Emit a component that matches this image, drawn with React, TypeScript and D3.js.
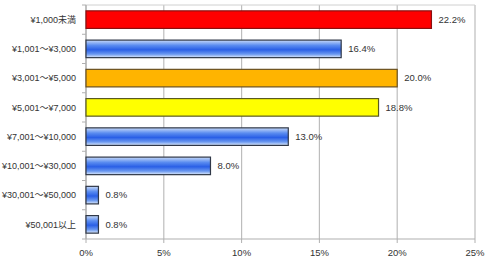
import React from "react";
import * as d3 from "d3";

const categories = ["¥1,000未満", "¥1,001～¥3,000", "¥3,001～¥5,000", "¥5,001～¥7,000", "¥7,001～¥10,000", "¥10,001～¥30,000", "¥30,001～¥50,000", "¥50,001以上"];
const values = [22.2, 16.4, 20.0, 18.8, 13.0, 8.0, 0.8, 0.8];
const fills = ["red", "blue", "orange", "yellow", "blue", "blue", "blue", "blue"];
const ticks = [0, 5, 10, 15, 20, 25];

export default function App() {
  const W = 500, H = 277;
  const left = 86, right = 475, top = 5, bottom = 239;
  const x = d3.scaleLinear().domain([0, 25]).range([left, right]);
  const y = d3.scaleBand().domain(categories).range([top, bottom]).paddingInner(0.4).paddingOuter(0.2);
  const font = "'Liberation Sans', 'Noto Sans CJK JP', sans-serif";
  const solid: Record<string, { fill: string; stroke: string }> = {
    red: { fill: "#ff0000", stroke: "#8a1010" },
    orange: { fill: "#ffb400", stroke: "#6a5020" },
    yellow: { fill: "#ffff00", stroke: "#5a5a20" },
    blue: { fill: "url(#blueGrad)", stroke: "#303848" },
  };
  const bandStep = (bottom - top) / categories.length;
  return (
    <svg width={W} height={H} style={{ position: "absolute", left: 0, top: 0, background: "#fff" }}>
      <defs>
        <linearGradient id="blueGrad" x1="0" y1="0" x2="0" y2="1">
          <stop offset="0" stopColor="#c8daf8" />
          <stop offset="0.3" stopColor="#5a8cf0" />
          <stop offset="0.55" stopColor="#2a5fe6" />
          <stop offset="0.8" stopColor="#6a98f0" />
          <stop offset="1" stopColor="#e0ebfb" />
        </linearGradient>
      </defs>
      <rect x={0} y={0} width={W} height={H} fill="#fff" />
      {ticks.map((t) => (
        <line key={t} x1={x(t)} x2={x(t)} y1={top} y2={bottom} stroke="#bdbdbd" strokeWidth={1.2} />
      ))}
      <line x1={left} x2={right} y1={top} y2={top} stroke="#d0d0d0" strokeWidth={1} />
      <line x1={left} x2={right} y1={bottom} y2={bottom} stroke="#b0b0b0" strokeWidth={1.2} />
      <line x1={left} x2={left} y1={top} y2={bottom} stroke="#b0b0b0" strokeWidth={1.2} />
      {d3.range(categories.length + 1).map((i) => (
        <line key={i} x1={left - 4} x2={left} y1={top + i * bandStep} y2={top + i * bandStep} stroke="#b0b0b0" />
      ))}
      {ticks.map((t) => (
        <line key={"t" + t} x1={x(t)} x2={x(t)} y1={bottom} y2={bottom + 4} stroke="#b0b0b0" />
      ))}
      {categories.map((c, i) => {
        const s = solid[fills[i]];
        const by = y(c)!;
        return (
          <g key={c}>
            <rect x={x(0)} y={by} width={x(values[i]) - x(0)} height={y.bandwidth()} fill={s.fill} stroke={s.stroke} strokeWidth={1.2} />
            <text x={x(values[i]) + 7} y={by + y.bandwidth() / 2} dy="0.35em" fontSize={9.5} fontFamily={font} fill="#333">
              {values[i].toFixed(1)}%
            </text>
            <text x={76} y={by + y.bandwidth() / 2} dy="0.35em" textAnchor="end" fontSize={9} fontFamily={font} fill="#333">
              {c}
            </text>
          </g>
        );
      })}
      {ticks.map((t) => (
        <text key={"l" + t} x={x(t)} y={253} dy="0.35em" textAnchor="middle" fontSize={9.5} fontFamily={font} fill="#333">
          {t}%
        </text>
      ))}
    </svg>
  );
}
